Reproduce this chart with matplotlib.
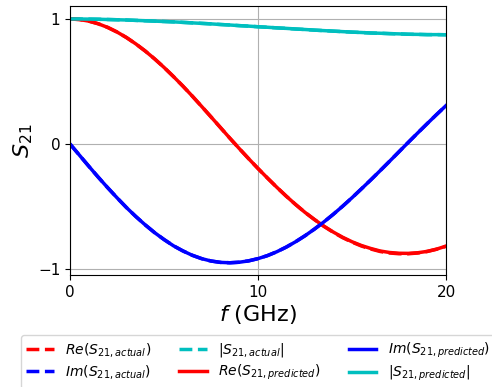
import numpy as np
import matplotlib
matplotlib.use("Agg")
import matplotlib.pyplot as plt

# frequency grid (GHz) and values
freq = [0, 0.5, 1, 1.5, 2, 2.5, 3, 3.5, 4, 4.5, 5, 5.5, 6, 6.5, 7, 7.5, 8, 8.5, 9, 9.5,
        10, 10.5, 11, 11.5, 12, 12.5, 13, 13.5, 14, 14.5, 15, 15.5, 16, 16.5, 17,
        17.5, 18, 18.5, 19, 19.5, 20]

re_actual = [1.000, 0.996, 0.983, 0.962, 0.933, 0.896, 0.852, 0.801, 0.744, 0.681,
             0.613, 0.540, 0.464, 0.384, 0.301, 0.217, 0.132, 0.047, -0.036, -0.117,
             -0.196, -0.272, -0.346, -0.417, -0.484, -0.547, -0.604, -0.658, -0.706,
             -0.749, -0.785, -0.816, -0.840, -0.860, -0.872, -0.878, -0.878, -0.872,
             -0.860, -0.842, -0.818]
im_actual = [0.000, -0.089, -0.178, -0.265, -0.349, -0.430, -0.508, -0.580, -0.647,
             -0.709, -0.764, -0.814, -0.855, -0.890, -0.917, -0.936, -0.947, -0.950,
             -0.946, -0.935, -0.917, -0.893, -0.862, -0.825, -0.782, -0.734, -0.681,
             -0.624, -0.563, -0.498, -0.430, -0.359, -0.287, -0.213, -0.138, -0.062,
             0.014, 0.089, 0.163, 0.236, 0.307]
mag_actual = [1.000, 1.000, 0.999, 0.998, 0.996, 0.994, 0.992, 0.989, 0.986, 0.983,
              0.980, 0.977, 0.973, 0.969, 0.965, 0.961, 0.956, 0.952, 0.947, 0.943,
              0.938, 0.934, 0.929, 0.925, 0.920, 0.916, 0.911, 0.907, 0.903, 0.899,
              0.895, 0.892, 0.888, 0.886, 0.883, 0.881, 0.878, 0.877, 0.875, 0.875,
              0.874]

re_pred = [1.000, 0.996, 0.983, 0.962, 0.933, 0.896, 0.852, 0.801, 0.744, 0.681,
           0.613, 0.540, 0.464, 0.384, 0.301, 0.217, 0.132, 0.047, -0.036, -0.117,
           -0.196, -0.272, -0.346, -0.417, -0.484, -0.547, -0.604, -0.657, -0.704,
           -0.746, -0.782, -0.812, -0.836, -0.856, -0.868, -0.874, -0.875, -0.870,
           -0.859, -0.841, -0.817]
im_pred = [0.000, -0.089, -0.178, -0.265, -0.349, -0.430, -0.508, -0.580, -0.647,
           -0.709, -0.764, -0.814, -0.855, -0.890, -0.917, -0.936, -0.947, -0.950,
           -0.946, -0.935, -0.917, -0.893, -0.862, -0.825, -0.782, -0.734, -0.681,
           -0.624, -0.563, -0.498, -0.430, -0.359, -0.287, -0.213, -0.138, -0.062,
           0.014, 0.089, 0.163, 0.236, 0.307]
mag_pred = [1.000, 1.000, 0.999, 0.998, 0.996, 0.994, 0.992, 0.989, 0.986, 0.983,
            0.980, 0.977, 0.973, 0.969, 0.965, 0.961, 0.956, 0.952, 0.947, 0.943,
            0.938, 0.934, 0.929, 0.925, 0.920, 0.916, 0.911, 0.907, 0.903, 0.899,
            0.895, 0.892, 0.888, 0.886, 0.883, 0.881, 0.878, 0.877, 0.875, 0.875,
            0.874]

fig = plt.figure(figsize=(4.92, 3.87), dpi=100)
ax = fig.add_axes([70 / 492, 1 - 275 / 387, 376 / 492, 269 / 387])

lw = 2.5
ax.plot(freq, re_actual, "--", color="red", lw=lw, label=r"$Re(S_{21,actual})$")
ax.plot(freq, im_actual, "--", color="blue", lw=lw, label=r"$Im(S_{21,actual})$")
ax.plot(freq, mag_actual, "--", color="c", lw=lw, label=r"$|S_{21,actual}|$")
ax.plot(freq, re_pred, "-", color="red", lw=lw, label=r"$Re(S_{21,predicted})$")
ax.plot(freq, im_pred, "-", color="blue", lw=lw, label=r"$Im(S_{21,predicted})$")
ax.plot(freq, mag_pred, "-", color="c", lw=lw, label=r"$|S_{21,predicted}|$")

ax.set_xlim(0, 20)
ax.set_ylim(-1.048, 1.104)
ax.set_xticks([0, 10, 20])
ax.set_yticks([-1, 0, 1])
ax.tick_params(labelsize=11)
ax.grid(True)
ax.set_xlabel(r"$f$ (GHz)", fontsize=16, labelpad=2)
ax.set_ylabel(r"$S_{21}$", fontsize=16, labelpad=2)

fig.legend(loc="upper center", bbox_to_anchor=(258 / 492, 1 - 335 / 387),
           ncol=3, fontsize=10, labelspacing=0.3, borderaxespad=0)

fig.savefig("out.png", dpi=100)
